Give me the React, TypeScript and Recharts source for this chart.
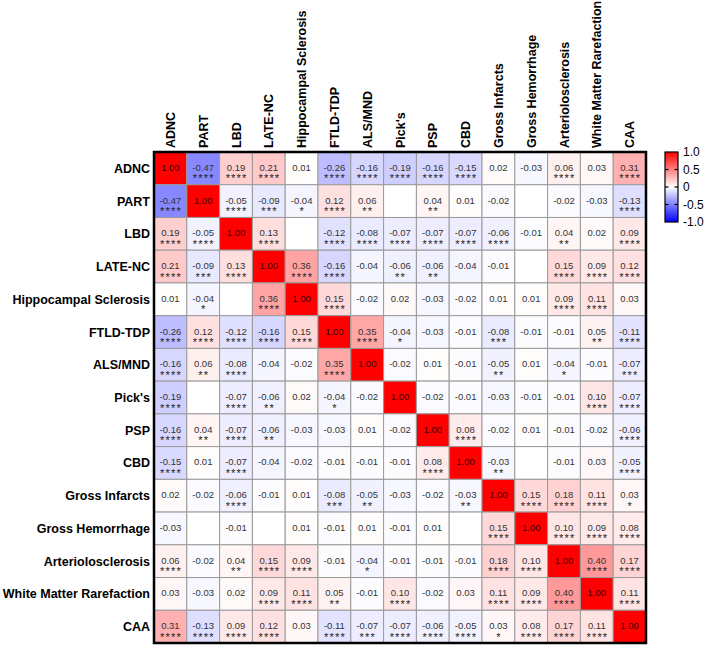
import { ScatterChart, Scatter, XAxis, YAxis, ReferenceArea } from "recharts";

const labels = [
  "ADNC",
  "PART",
  "LBD",
  "LATE-NC",
  "Hippocampal Sclerosis",
  "FTLD-TDP",
  "ALS/MND",
  "Pick's",
  "PSP",
  "CBD",
  "Gross Infarcts",
  "Gross Hemorrhage",
  "Arteriolosclerosis",
  "White Matter Rarefaction",
  "CAA",
];

// correlation rows (null = blank cell), and significance stars per cell
const adnc = [1.0, -0.47, 0.19, 0.21, 0.01, -0.26, -0.16, -0.19, -0.16, -0.15, 0.02, -0.03, 0.06, 0.03, 0.31];
const adncSig = [0, 4, 4, 4, 0, 4, 4, 4, 4, 4, 0, 0, 4, 0, 4];
const part = [-0.47, 1.0, -0.05, -0.09, -0.04, 0.12, 0.06, null, 0.04, 0.01, -0.02, null, -0.02, -0.03, -0.13];
const partSig = [4, 0, 4, 3, 1, 4, 2, 0, 2, 0, 0, 0, 0, 0, 4];
const lbd = [0.19, -0.05, 1.0, 0.13, null, -0.12, -0.08, -0.07, -0.07, -0.07, -0.06, -0.01, 0.04, 0.02, 0.09];
const lbdSig = [4, 4, 0, 4, 0, 4, 4, 4, 4, 4, 4, 0, 2, 0, 4];
const lateNc = [0.21, -0.09, 0.13, 1.0, 0.36, -0.16, -0.04, -0.06, -0.06, -0.04, -0.01, null, 0.15, 0.09, 0.12];
const lateNcSig = [4, 3, 4, 0, 4, 4, 0, 2, 2, 0, 0, 0, 4, 4, 4];
const hippo = [0.01, -0.04, null, 0.36, 1.0, 0.15, -0.02, 0.02, -0.03, -0.02, 0.01, 0.01, 0.09, 0.11, 0.03];
const hippoSig = [0, 1, 0, 4, 0, 4, 0, 0, 0, 0, 0, 0, 4, 4, 0];
const ftld = [-0.26, 0.12, -0.12, -0.16, 0.15, 1.0, 0.35, -0.04, -0.03, -0.01, -0.08, -0.01, -0.01, 0.05, -0.11];
const ftldSig = [4, 4, 4, 4, 4, 0, 4, 1, 0, 0, 3, 0, 0, 2, 4];
const als = [-0.16, 0.06, -0.08, -0.04, -0.02, 0.35, 1.0, -0.02, 0.01, -0.01, -0.05, 0.01, -0.04, -0.01, -0.07];
const alsSig = [4, 2, 4, 0, 0, 4, 0, 0, 0, 0, 2, 0, 1, 0, 3];
const picks = [-0.19, null, -0.07, -0.06, 0.02, -0.04, -0.02, 1.0, -0.02, -0.01, -0.03, -0.01, -0.01, 0.1, -0.07];
const picksSig = [4, 0, 4, 2, 0, 1, 0, 0, 0, 0, 0, 0, 0, 4, 4];
const psp = [-0.16, 0.04, -0.07, -0.06, -0.03, -0.03, 0.01, -0.02, 1.0, 0.08, -0.02, 0.01, -0.01, -0.02, -0.06];
const pspSig = [4, 2, 4, 2, 0, 0, 0, 0, 0, 4, 0, 0, 0, 0, 4];
const cbd = [-0.15, 0.01, -0.07, -0.04, -0.02, -0.01, -0.01, -0.01, 0.08, 1.0, -0.03, null, -0.01, 0.03, -0.05];
const cbdSig = [4, 0, 4, 0, 0, 0, 0, 0, 4, 0, 2, 0, 0, 0, 4];
const infarcts = [0.02, -0.02, -0.06, -0.01, 0.01, -0.08, -0.05, -0.03, -0.02, -0.03, 1.0, 0.15, 0.18, 0.11, 0.03];
const infarctsSig = [0, 0, 4, 0, 0, 3, 2, 0, 0, 2, 0, 4, 4, 4, 1];
const hemorrhage = [-0.03, null, -0.01, null, 0.01, -0.01, 0.01, -0.01, 0.01, null, 0.15, 1.0, 0.1, 0.09, 0.08];
const hemorrhageSig = [0, 0, 0, 0, 0, 0, 0, 0, 0, 0, 4, 0, 4, 4, 4];
const arterio = [0.06, -0.02, 0.04, 0.15, 0.09, -0.01, -0.04, -0.01, -0.01, -0.01, 0.18, 0.1, 1.0, 0.4, 0.17];
const arterioSig = [4, 0, 2, 4, 4, 0, 1, 0, 0, 0, 4, 4, 0, 4, 4];
const wmr = [0.03, -0.03, 0.02, 0.09, 0.11, 0.05, -0.01, 0.1, -0.02, 0.03, 0.11, 0.09, 0.4, 1.0, 0.11];
const wmrSig = [0, 0, 0, 4, 4, 2, 0, 4, 0, 0, 4, 4, 4, 0, 4];
const caa = [0.31, -0.13, 0.09, 0.12, 0.03, -0.11, -0.07, -0.07, -0.06, -0.05, 0.03, 0.08, 0.17, 0.11, 1.0];
const caaSig = [4, 4, 4, 4, 0, 4, 3, 4, 4, 4, 1, 4, 4, 4, 0];

const legendTicks = [1.0, 0.5, 0, -0.5, -1.0];

const rows = [adnc, part, lbd, lateNc, hippo, ftld, als, picks, psp, cbd, infarcts, hemorrhage, arterio, wmr, caa];
const sigs = [adncSig, partSig, lbdSig, lateNcSig, hippoSig, ftldSig, alsSig, picksSig, pspSig, cbdSig, infarctsSig, hemorrhageSig, arterioSig, wmrSig, caaSig];

const cells = rows.flatMap((row, i) =>
  row.map((v, j) => ({ x: j, y: i, v, s: sigs[i][j] }))
);

const idx = labels.map((_, i) => i);

const W = 708;
const H = 647;
const M = { top: 0, right: 62, bottom: 4, left: 0 };
const XH = 152;
const YW = 154;
const CW = (W - YW - M.right) / labels.length;
const CH = (H - XH - M.bottom) / labels.length;

const FONT = "'Liberation Sans', Arial, sans-serif";

function colorFor(v: number | null) {
  if (v === null) return "#ffffff";
  const t = Math.max(-1, Math.min(1, v));
  if (t >= 0) {
    const c = Math.round(255 * (1 - t));
    return `rgb(255,${c},${c})`;
  }
  const c = Math.round(255 * (1 + t));
  return `rgb(${c},${c},255)`;
}

const HeatCell = (props: any) => {
  const { cx, cy, payload } = props;
  const { v, s, x, y } = payload;
  const diag = x === y;
  return (
    <g>
      <rect
        x={cx - CW / 2}
        y={cy - CH / 2}
        width={CW}
        height={CH}
        fill={colorFor(v)}
        stroke="#9a9a9a"
        strokeWidth={1}
      />
      {v !== null && (
        <text
          x={cx}
          y={cy + 2.5}
          textAnchor="middle"
          fontSize={9.5}
          fontFamily={FONT}
          fill={diag ? "#3a0000" : "#333"}
        >
          {v.toFixed(2)}
        </text>
      )}
      {s > 0 && (
        <text
          x={cx + 0.6}
          y={cy + 14}
          textAnchor="middle"
          fontSize={11}
          letterSpacing={1.2}
          fontFamily={FONT}
          fill="#222"
        >
          {"*".repeat(s)}
        </text>
      )}
    </g>
  );
};

const TopTick = (props: any) => {
  const { x, y, payload } = props;
  return (
    <g transform={`translate(${x},${y})`}>
      <text
        transform="rotate(-90)"
        x={0}
        y={0}
        dy="0.36em"
        textAnchor="start"
        fontSize={12.5}
        fontWeight="bold"
        fontFamily={FONT}
        fill="#000"
      >
        {labels[payload.value]}
      </text>
    </g>
  );
};

const LeftTick = (props: any) => {
  const { x, y, payload } = props;
  return (
    <text
      x={x}
      y={y}
      dy="0.36em"
      textAnchor="end"
      fontSize={12.5}
      fontWeight="bold"
      fontFamily={FONT}
      fill="#000"
    >
      {labels[payload.value]}
    </text>
  );
};

function ColorBar() {
  const top = 152;
  const h = 70;
  const left = 665;
  const w = 13;
  const pos = (t: number) => top + (h * (1 - t)) / 2;
  return (
    <svg width={W} height={H} style={{ position: "absolute", left: 0, top: 0, pointerEvents: "none" }}>
      <defs>
        <linearGradient id="cbar" x1="0" y1="0" x2="0" y2="1">
          <stop offset="0%" stopColor="#ff0000" />
          <stop offset="50%" stopColor="#ffffff" />
          <stop offset="100%" stopColor="#0000ff" />
        </linearGradient>
      </defs>
      <rect x={left} y={top} width={w} height={h} fill="url(#cbar)" stroke="#000" strokeWidth={1.2} />
      {legendTicks.map((t) => (
        <g key={t}>
          {t !== 1 && t !== -1 && (
            <>
              <line x1={left} x2={left + 3.5} y1={pos(t)} y2={pos(t)} stroke="#000" strokeWidth={1.2} />
              <line x1={left + w - 3.5} x2={left + w} y1={pos(t)} y2={pos(t)} stroke="#000" strokeWidth={1.2} />
            </>
          )}
          <text x={left + w + 5} y={pos(t)} dy="0.36em" fontSize={12} fontFamily={FONT} fill="#000">
            {t === 0 ? "0" : t.toFixed(1)}
          </text>
        </g>
      ))}
    </svg>
  );
}

export default function App() {
  return (
    <div style={{ position: "absolute", left: 0, top: 0, width: W, height: H, background: "#fff" }}>
      <ScatterChart width={W} height={H} margin={M}>
        <XAxis
          type="number"
          dataKey="x"
          orientation="top"
          domain={[-0.5, labels.length - 0.5]}
          ticks={idx}
          interval={0}
          height={XH}
          axisLine={false}
          tickLine={false}
          tickSize={0}
          tickMargin={4}
          tick={<TopTick />}
        />
        <YAxis
          type="number"
          dataKey="y"
          reversed
          domain={[-0.5, labels.length - 0.5]}
          ticks={idx}
          interval={0}
          width={YW}
          axisLine={false}
          tickLine={false}
          tickSize={0}
          tickMargin={4}
          tick={<LeftTick />}
        />
        <Scatter data={cells} shape={<HeatCell />} isAnimationActive={false} />
        <ReferenceArea
          x1={-0.5}
          x2={labels.length - 0.5}
          y1={-0.5}
          y2={labels.length - 0.5}
          fill="none"
          fillOpacity={0}
          stroke="#000"
          strokeWidth={2.5}
          ifOverflow="visible"
          zIndex={700}
        />
      </ScatterChart>
      <ColorBar />
    </div>
  );
}
